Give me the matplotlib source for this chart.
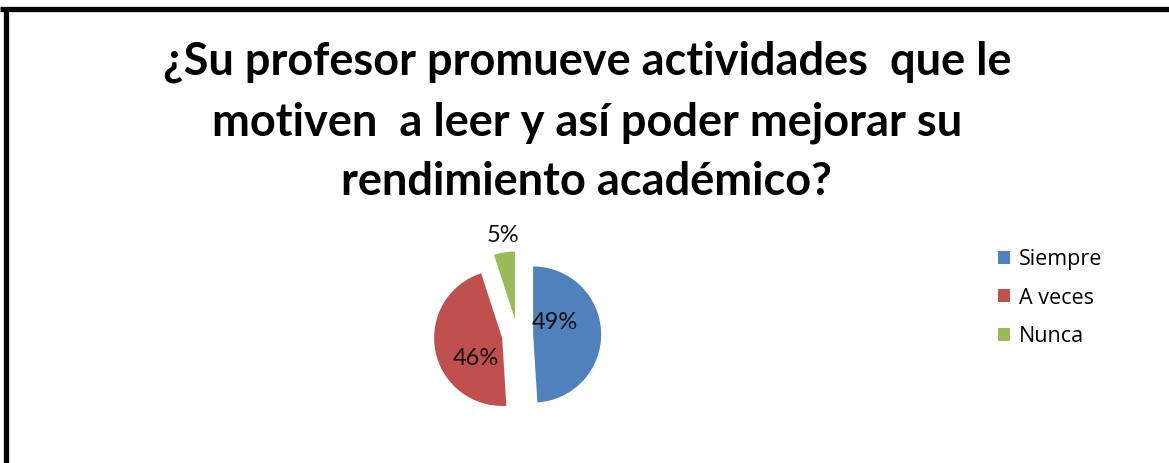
#!/usr/bin/env python3
"""
Pie chart: ¿Su profesor promueve actividades que le motiven a leer...?
"""

import matplotlib
matplotlib.use('Agg')
import matplotlib.pyplot as plt
from matplotlib.lines import Line2D
from matplotlib.patches import Patch

# Data
categories = ['Siempre', 'A veces', 'Nunca']
values = [49, 46, 5]
colors = ['#4F81BD', '#C0504D', '#9BBB59']
pct_labels = ['49%', '46%', '5%']
# label positions relative to pie centre, in radius units
label_pos = [(0.55, 0.19), (-0.61, -0.34), (-0.21, 1.46)]

title = ('¿Su profesor promueve actividades  que le\n'
         'motiven  a leer y así poder mejorar su\n'
         'rendimiento académico?')

W, H = 1169, 463
fig = plt.figure(figsize=(W / 100, H / 100), dpi=100)
fig.patch.set_facecolor('white')

# Black frame (top and left edges only visible)
fig.add_artist(Line2D([0, 1], [1 - 8.5 / H, 1 - 8.5 / H], color='black', lw=3.8,
                      transform=fig.transFigure, solid_capstyle='butt'))
fig.add_artist(Line2D([5.5 / W, 5.5 / W], [0, 1 - 8.5 / H], color='black', lw=3.8,
                      transform=fig.transFigure, solid_capstyle='butt'))

fig.text(0.502, 1 - 122 / H, title, ha='center', va='center',
         fontsize=32.5, fontweight='bold', family='Lato', linespacing=1.52)

# Pie axes: centre at (517.5, 335) px, radius 68 px
size = 200
ax = fig.add_axes([(517.5 - size / 2) / W, (H - 335 - size / 2) / H, size / W, size / H])
wedges, _ = ax.pie(values, colors=colors, startangle=90, counterclock=False,
                   explode=[0.23] * len(values), radius=1.0,
                   center=(0, 0), wedgeprops=dict(linewidth=0))
ax.set_xlim(-1.47, 1.47)
ax.set_ylim(-1.47, 1.47)
ax.set_aspect('equal')
ax.axis('off')

for txt, (x, y) in zip(pct_labels, label_pos):
    ax.text(x, y, txt, ha='center', va='center', fontsize=17, family='Lato',
            color='#111111')

# Legend
handles = [Patch(facecolor=c, edgecolor='none') for c in colors]
fig.legend(handles, categories, loc='center left',
           bbox_to_anchor=(981 / W, 1 - 298 / H), frameon=False,
           prop={'family': 'Open Sans', 'size': 15.5},
           handlelength=0.55, handleheight=0.55, handletextpad=0.4,
           labelspacing=0.82, borderpad=0.3)

fig.savefig('out.png', dpi=100)
